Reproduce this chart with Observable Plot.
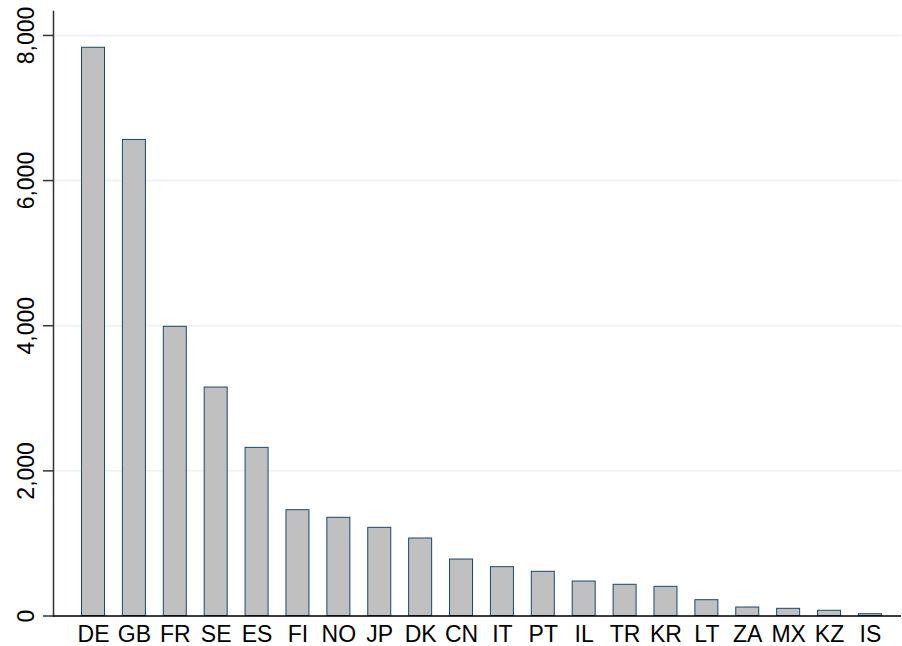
<!DOCTYPE html>
<html>
<head>
<meta charset="utf-8">
<script src="https://cdn.jsdelivr.net/npm/d3@7"></script>
<script src="https://cdn.jsdelivr.net/npm/@observablehq/plot@0.6"></script>
<style>
  html, body { margin: 0; padding: 0; background: #fff; }
  #chart svg { display: block; font-family: "Liberation Sans", Arial, sans-serif; }
</style>
</head>
<body>
<div id="chart"></div>
<script>
const countries = ["DE","GB","FR","SE","ES","FI","NO","JP","DK","CN","IT","PT","IL","TR","KR","LT","ZA","MX","KZ","IS"];
const values = [7830, 6560, 3985, 3148, 2317, 1458, 1353, 1215, 1068, 778, 673, 609, 475, 430, 402, 218, 117, 99, 72, 25];
const yTicks = [0, 2000, 4000, 6000, 8000];

const data = countries.map((c, i) => ({country: c, value: values[i]}));

const chart = Plot.plot({
  width: 902,
  height: 646,
  marginLeft: 53,
  marginRight: 1,
  marginTop: 11,
  marginBottom: 30.5,
  style: {fontFamily: "'Liberation Sans', Arial, sans-serif", fontSize: "22px", background: "#fff", color: "#000"},
  x: {
    type: "band",
    domain: countries,
    paddingInner: 0.4375,
    paddingOuter: 0.588,
    align: 0.593,
    round: false,
    label: null
  },
  y: {domain: [0, 8330], label: null},
  marks: [
    Plot.gridY(yTicks, {stroke: "#eaf2f3", strokeOpacity: 1, strokeWidth: 1.5}),
    Plot.barY(data, {x: "country", y: "value", fill: "#c0c0c0", stroke: "#1a476f", strokeWidth: 1}),
    Plot.frame({anchor: "left", stroke: "#333", strokeWidth: 1.5}),
    Plot.ruleY([0], {stroke: "#000", strokeWidth: 1.5}),
    Plot.axisY({ticks: yTicks, tickSize: 10, tickFormat: () => "", stroke: "#333", strokeWidth: 1.5}),
    Plot.text(yTicks, {
      y: d => d,
      text: d => d3.format(",")(d),
      frameAnchor: "left",
      dx: -20,
      rotate: -90,
      textAnchor: "middle",
      lineAnchor: "bottom",
      fontSize: 23,
      fill: "#000"
    }),
    Plot.axisX({tickSize: 0, tickPadding: 10, fontSize: 23, label: null, fill: "#000"})
  ]
});
document.getElementById("chart").appendChild(chart);
</script>
</body>
</html>
